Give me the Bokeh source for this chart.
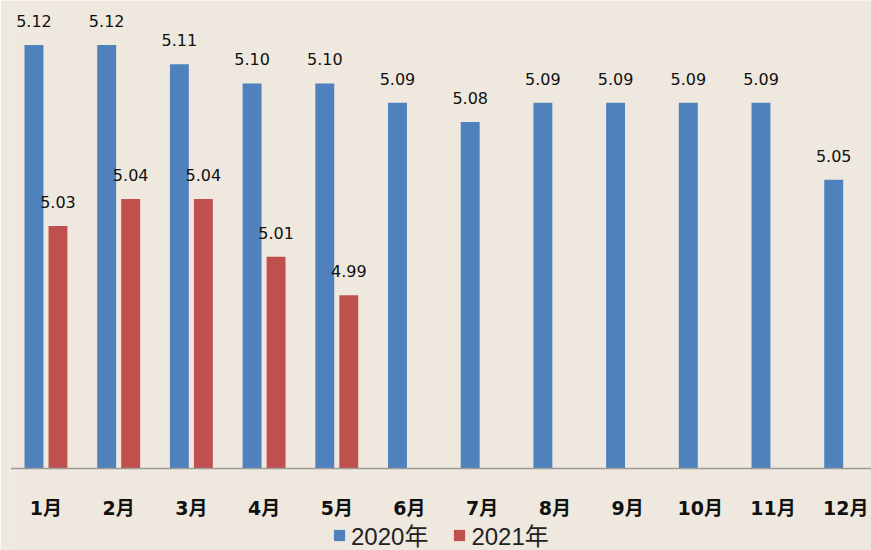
from bokeh.plotting import figure
from bokeh.models import ColumnDataSource, Range1d, FixedTicker, Legend, LegendItem
from bokeh.transform import dodge
from bokeh.core.properties import value
from bokeh.embed import file_html
from bokeh.resources import INLINE

months = ["1月", "2月", "3月", "4月", "5月", "6月", "7月", "8月", "9月", "10月", "11月", "12月"]
y2020 = [5.12, 5.12, 5.11, 5.10, 5.10, 5.09, 5.08, 5.09, 5.09, 5.09, 5.09, 5.05]
y2021 = [5.026, 5.04, 5.04, 5.01, 4.99]
series_names = ["2020年", "2021年"]
base = 4.90

BLUE = "#4F81BD"
RED = "#C0504D"
BG = "#efe8de"

idx20 = list(range(len(y2020)))
idx21 = list(range(len(y2021)))
src20 = ColumnDataSource(dict(x=idx20, y=y2020, lab=[f"{v:.2f}" for v in y2020]))
src21 = ColumnDataSource(dict(x=idx21, y=y2021, lab=[f"{v:.2f}" for v in y2021]))

p = figure(frame_width=861, frame_height=550,
           x_range=Range1d(-0.488, 11.355), y_range=Range1d(4.8574, 5.1431),
           output_backend="svg", toolbar_location=None,
           min_border_left=10, min_border_right=0, min_border_top=0, min_border_bottom=0)

p.background_fill_color = BG
p.border_fill_color = BG
p.outline_line_color = None
p.xgrid.visible = False
p.ygrid.visible = False
p.yaxis.visible = False

bw = 0.26
off = 0.165
r20 = p.vbar(x=dodge("x", -off, range=p.x_range), top="y", bottom=base, width=bw,
             source=src20, fill_color=BLUE, line_color=None)
r21 = p.vbar(x=dodge("x", off, range=p.x_range), top="y", bottom=base, width=bw,
             source=src21, fill_color=RED, line_color=None)

for src, o in ((src20, -off), (src21, off)):
    p.text(x=dodge("x", o, range=p.x_range), y="y", text="lab", source=src,
           text_align="center", text_baseline="alphabetic", y_offset=-24,
           text_font=value("DejaVu Sans"), text_font_size="16px", text_color="#111111")

ax = p.xaxis[0]
ax.fixed_location = base
ax.ticker = FixedTicker(ticks=list(range(len(months))))
ax.major_label_overrides = {i: m for i, m in enumerate(months)}
ax.major_tick_line_color = None
ax.minor_tick_line_color = None
ax.major_tick_out = 0
ax.major_tick_in = 0
ax.major_label_standoff = 29
ax.axis_line_color = "#9a9a9a"
ax.axis_line_width = 1.5
ax.major_label_text_font = "DejaVu Sans, Noto Sans CJK SC"
ax.major_label_text_font_size = "19px"
ax.major_label_text_font_style = "bold"
ax.major_label_text_color = "#111111"

legend = Legend(items=[LegendItem(label=series_names[0], renderers=[r20]),
                       LegendItem(label=series_names[1], renderers=[r21])],
                orientation="horizontal", location=(322, -2))
legend.label_text_font = "Liberation Sans, Noto Sans CJK SC"
legend.label_text_font_size = "24px"
legend.label_text_line_height = 1.0
legend.label_height = 20
legend.label_text_color = "#222222"
legend.glyph_width = 14
legend.glyph_height = 14
legend.label_standoff = 5
legend.spacing = 24
legend.padding = 0
legend.margin = 0
legend.background_fill_alpha = 0
legend.border_line_alpha = 0
p.add_layout(legend, "center")

open("out.html", "w").write(file_html(p, INLINE))
